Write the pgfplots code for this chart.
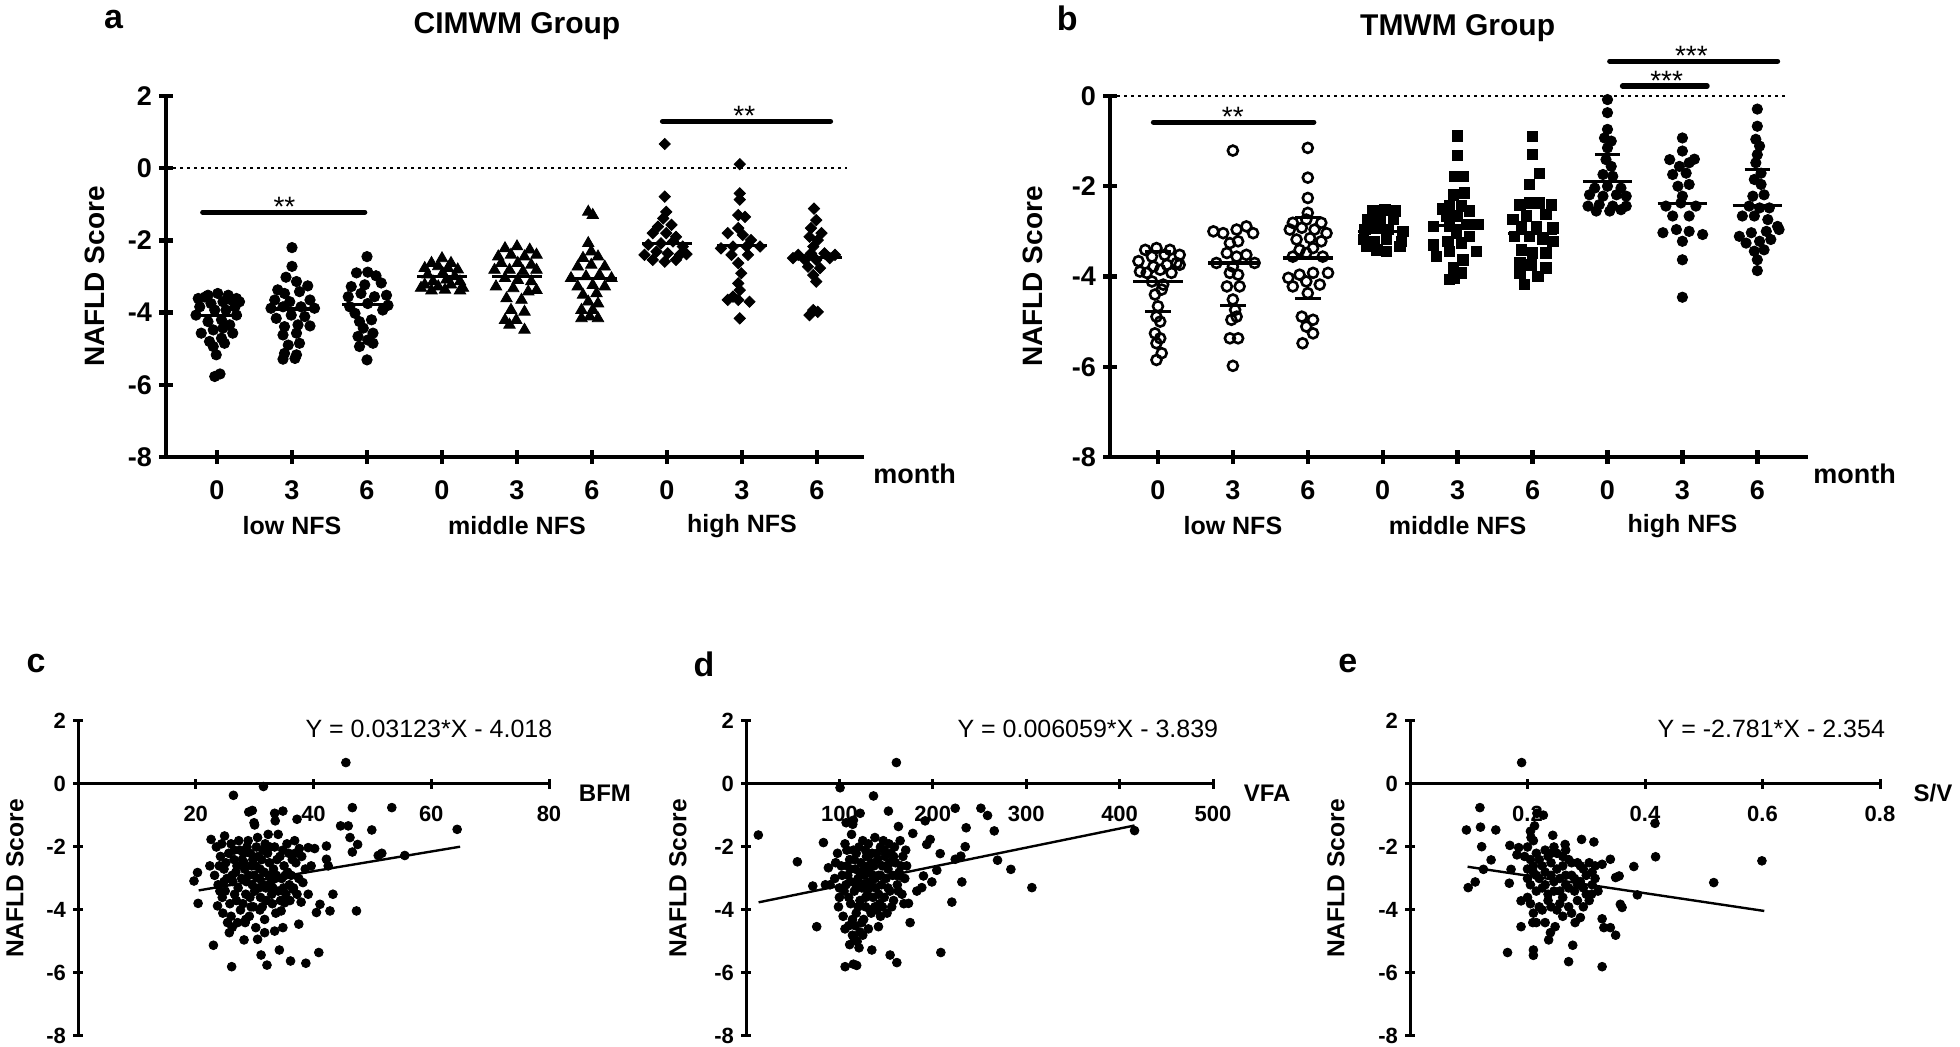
\documentclass[border=0pt]{standalone}
\usepackage{fontspec}
\setmainfont{Liberation Sans}
\setsansfont{Liberation Sans}
\usepackage{pgfplots}
\pgfplotsset{compat=1.18}
\newcommand\fs[1]{\fontsize{#1}{#1}\selectfont}
\pgfplotsset{
  base/.style={scale only axis, clip=false, /pgf/number format/assume math mode=true,
    tick align=outside, every axis plot/.append style={black}},
  top/.style={base, width=348.75pt, height=180.5pt,
    axis x line=bottom, axis y line=left,
    axis line style={line width=2.2pt,-}, tick style={line width=2.2pt, black},
    major tick length=7pt,
    xtick={1,...,9}, xticklabels={0,3,6,0,3,6,0,3,6},
    tick label style={font=\bfseries\fs{13.5}},
    xticklabel style={yshift=-5pt}},
  bot/.style={base, height=157.5pt, ymin=-8, ymax=2,
    axis x line=middle, axis y line=left,
    axis line style={line width=1.5pt,-}, tick style={line width=1.5pt, black},
    major tick length=5pt, hide obscured y ticks=false, hide obscured x ticks=false,
    ytick={-8,-6,-4,-2,0,2}, yticklabels={-8,-6,-4,-2,0,2},
    tick label style={font=\bfseries\fs{11}},
    xticklabel style={yshift=-5pt}},
  dots/.style={only marks, mark=*, mark size=2.2pt},
  mean/.style={line width=1.6pt},
  sig/.style={line width=2.6pt, line cap=round},
  zero/.style={line width=1.3pt, dash pattern=on 1.3pt off 2.2pt},
}
\begin{document}
\begin{tikzpicture}
\useasboundingbox (0,0) rectangle (980pt,523.5pt);
% ---------------- panel a ----------------
\begin{axis}[top, at={(83pt,295pt)}, anchor=south west, xmin=0.32, xmax=9.62, ymin=-8, ymax=2,
  ytick={-8,-6,-4,-2,0,2}, yticklabels={-8,-6,-4,-2,0,2}]
\addplot[zero] coordinates {(0.32,0)(9.4,0)};
\addplot[only marks, mark=*, mark size=2.6pt] coordinates {
(0.75,-3.61)(0.88,-3.52)(1.01,-3.47)(1.15,-3.52)(1.26,-3.61)(0.77,-3.84)(0.92,-3.75)(1.08,-3.70)(1.24,-3.84)(1.30,-3.70)
(0.72,-4.07)(0.97,-3.93)(1.12,-3.93)(1.26,-4.07)(0.88,-4.25)(1.06,-4.20)(1.17,-4.34)(0.79,-4.57)(0.95,-4.48)(1.08,-4.43)
(1.21,-4.57)(0.90,-4.80)(1.06,-4.71)(0.95,-4.94)(1.10,-4.85)(0.99,-5.17)(0.97,-5.77)(1.04,-5.70)(0.84,-3.57)(1.19,-3.65)};
\addplot[only marks, mark=*, mark size=2.6pt] coordinates {
(2.00,-2.20)(2.00,-2.72)(1.92,-3.02)(2.06,-3.14)(1.81,-3.37)(2.21,-3.26)(1.90,-3.47)(2.10,-3.42)(1.77,-3.65)(2.24,-3.65)
(1.97,-3.70)(1.72,-3.88)(1.88,-3.84)(2.12,-3.84)(2.30,-3.88)(1.79,-4.16)(1.99,-4.07)(2.17,-4.11)(1.90,-4.39)(2.08,-4.34)
(2.24,-4.37)(1.88,-4.62)(2.06,-4.57)(1.95,-4.90)(2.10,-4.85)(1.90,-5.13)(2.06,-5.17)(1.88,-5.29)(2.04,-5.27)};
\addplot[only marks, mark=*, mark size=2.6pt] coordinates {
(3.00,-2.45)(2.86,-2.90)(3.01,-2.88)(3.12,-2.98)(3.19,-3.18)(2.79,-3.28)(2.97,-3.23)(2.75,-3.56)(2.92,-3.47)(3.26,-3.52)
(3.10,-3.56)(2.77,-3.84)(3.01,-3.75)(3.21,-3.93)(3.28,-3.80)(2.84,-4.02)(2.90,-4.25)(3.06,-4.20)(2.95,-4.43)(3.08,-4.57)
(2.88,-4.66)(3.01,-4.76)(2.90,-4.94)(3.08,-4.85)(3.00,-5.31)};
\addplot[only marks, mark=triangle*, mark size=3.3pt] coordinates {
(4.00,-2.50)(3.86,-2.63)(4.12,-2.63)(3.77,-2.77)(3.95,-2.72)(4.08,-2.77)(4.21,-2.81)(3.81,-2.95)(4.01,-2.91)(4.17,-3.00)
(3.88,-3.14)(4.06,-3.09)(4.24,-3.14)(3.77,-3.23)(3.95,-3.28)(4.12,-3.23)(3.86,-3.39)(4.04,-3.37)(4.24,-3.39)(3.72,-3.32)(4.28,-3.32)};
\addplot[only marks, mark=triangle*, mark size=3.3pt] coordinates {
(5.00,-2.17)(4.84,-2.22)(5.17,-2.26)(4.75,-2.45)(4.92,-2.40)(5.10,-2.45)(5.26,-2.40)(4.79,-2.63)(5.01,-2.63)(5.19,-2.68)
(4.70,-2.82)(4.90,-2.82)(5.08,-2.86)(5.26,-2.82)(4.84,-3.05)(5.01,-3.10)(5.19,-3.14)(4.72,-3.28)(4.95,-3.33)(5.15,-3.42)
(5.26,-3.38)(4.86,-3.61)(5.06,-3.65)(4.92,-3.93)(5.10,-3.98)(4.84,-4.21)(4.99,-4.21)(4.90,-4.34)(5.10,-4.48)};
\addplot[only marks, mark=triangle*, mark size=3.3pt] coordinates {
(5.95,-1.21)(6.01,-1.30)(5.95,-2.08)(5.99,-2.31)(5.88,-2.49)(6.08,-2.45)(5.81,-2.73)(5.99,-2.68)(6.17,-2.73)(5.72,-3.05)
(5.92,-3.00)(6.10,-2.96)(6.26,-3.05)(5.81,-3.28)(6.01,-3.24)(6.17,-3.28)(5.88,-3.51)(6.06,-3.47)(5.95,-3.70)(6.08,-3.75)
(5.86,-3.93)(6.01,-3.93)(5.86,-4.16)(6.08,-4.16)(5.97,-4.11)};
\addplot[only marks, mark=square*, mark size=2pt, mark options={rotate=45}] coordinates {
(6.97,0.67)(6.97,-0.79)(6.99,-1.21)(6.95,-1.39)(6.88,-1.62)(7.06,-1.57)(6.81,-1.80)(6.99,-1.80)(7.12,-1.90)(6.75,-2.12)
(6.92,-2.08)(7.08,-2.03)(7.21,-2.17)(6.70,-2.40)(6.86,-2.31)(7.01,-2.36)(7.17,-2.40)(7.26,-2.38)(6.81,-2.54)(6.97,-2.59)(7.12,-2.54)};
\addplot[only marks, mark=square*, mark size=2pt, mark options={rotate=45}] coordinates {
(7.97,0.11)(7.97,-0.70)(7.97,-0.87)(7.95,-1.30)(8.04,-1.35)(7.95,-1.66)(7.81,-1.80)(8.01,-1.85)(8.12,-1.99)(7.72,-2.22)
(7.88,-2.17)(8.06,-2.17)(8.24,-2.17)(7.86,-2.40)(8.08,-2.40)(7.95,-2.63)(7.99,-2.91)(7.95,-3.19)(7.97,-3.38)(7.81,-3.65)
(7.95,-3.65)(8.10,-3.70)(7.88,-3.56)(7.97,-4.16)};
\addplot[only marks, mark=square*, mark size=2pt, mark options={rotate=45}] coordinates {
(8.96,-1.12)(8.99,-1.44)(8.92,-1.66)(9.06,-1.80)(8.90,-1.90)(9.01,-1.99)(8.95,-2.17)(8.75,-2.40)(8.92,-2.36)(9.10,-2.36)
(9.24,-2.40)(8.68,-2.49)(8.84,-2.54)(8.99,-2.54)(9.17,-2.49)(8.88,-2.73)(9.04,-2.77)(8.95,-2.96)(8.99,-3.14)(8.95,-3.93)
(9.01,-3.98)(8.90,-4.07)};
\addplot[mean] coordinates {(0.67,-4.07)(1.33,-4.07)};
\addplot[mean] coordinates {(1.67,-3.90)(2.33,-3.90)};
\addplot[mean] coordinates {(2.67,-3.77)(3.33,-3.77)};
\addplot[mean] coordinates {(3.67,-3.00)(4.33,-3.00)};
\addplot[mean] coordinates {(4.67,-3.00)(5.33,-3.00)};
\addplot[mean] coordinates {(5.67,-3.05)(6.33,-3.05)};
\addplot[mean] coordinates {(6.67,-2.08)(7.33,-2.08)};
\addplot[mean] coordinates {(7.67,-2.15)(8.33,-2.15)};
\addplot[mean] coordinates {(8.67,-2.48)(9.33,-2.48)};
\addplot[sig] coordinates {(0.81,-1.22)(2.97,-1.22)};
\addplot[sig] coordinates {(6.94,1.30)(9.18,1.30)};
\node[font=\fs{14}, anchor=base, yshift=-2pt] at (axis cs:1.9,-1.22) {**};
\node[font=\fs{14}, anchor=base, yshift=-2pt] at (axis cs:8.03,1.30) {**};
\node[font=\bfseries\fs{15}] at (axis cs:5.0,3.94) {CIMWM Group};
\node[font=\bfseries\fs{17}] at (axis cs:-0.38,4.13) {a};
\node[rotate=90, font=\bfseries\fs{14}] at (axis cs:-0.63,-3) {NAFLD Score};
\node[font=\bfseries\fs{13.5}, yshift=-8.5pt] at (axis cs:10.3,-8) {month};
\node[font=\bfseries\fs{12.5}, yshift=-34.5pt] at (axis cs:2,-8) {low NFS};
\node[font=\bfseries\fs{12.5}, yshift=-34.5pt] at (axis cs:5,-8) {middle NFS};
\node[font=\bfseries\fs{12.5}, yshift=-34.5pt] at (axis cs:8,-8) {high NFS};
\end{axis}
% ---------------- panel b ----------------
\begin{axis}[top, at={(555pt,295pt)}, anchor=south west, xmin=0.36, xmax=9.67, ymin=-8, ymax=0,
  ytick={-8,-6,-4,-2,0}, yticklabels={-8,-6,-4,-2,0}]
\addplot[zero] coordinates {(0.36,0)(9.4,0)};
\addplot[only marks, mark=o, mark size=2.5pt, mark options={line width=1.3pt}] coordinates {
(0.83,-3.41)(0.98,-3.37)(1.16,-3.41)(1.29,-3.52)(0.74,-3.66)(0.92,-3.56)(1.09,-3.52)(1.25,-3.70)(0.76,-3.89)(0.94,-3.78)
(1.12,-3.74)(1.29,-3.74)(0.85,-3.92)(1.03,-3.85)(1.18,-3.92)(0.92,-4.11)(1.07,-4.18)(0.96,-4.40)(1.05,-4.29)(1.00,-4.66)
(0.98,-4.89)(1.03,-5.00)(0.96,-5.26)(1.03,-5.37)(0.98,-5.48)(1.05,-5.70)(0.98,-5.85)};
\addplot[only marks, mark=o, mark size=2.5pt, mark options={line width=1.3pt}] coordinates {
(2.00,-1.21)(1.74,-3.00)(1.87,-3.04)(2.05,-2.96)(2.18,-2.89)(2.27,-3.04)(1.96,-3.26)(2.07,-3.22)(1.78,-3.70)(1.92,-3.48)
(2.05,-3.56)(2.18,-3.52)(2.29,-3.70)(2.00,-3.78)(1.96,-3.92)(2.07,-3.96)(1.92,-4.22)(2.09,-4.22)(2.00,-4.51)(2.03,-4.74)
(1.98,-4.96)(2.05,-4.89)(1.96,-5.37)(2.07,-5.37)(2.00,-5.98)};
\addplot[only marks, mark=o, mark size=2.5pt, mark options={line width=1.3pt}] coordinates {
(3.00,-1.15)(3.00,-1.81)(3.00,-2.26)(3.00,-2.59)(2.80,-2.81)(2.98,-2.74)(3.18,-2.81)(2.76,-2.96)(2.92,-2.92)(3.09,-2.96)
(3.25,-3.04)(2.85,-3.18)(3.03,-3.15)(3.18,-3.22)(2.89,-3.41)(3.07,-3.37)(2.80,-3.56)(2.98,-3.48)(3.20,-3.56)(2.74,-4.03)
(2.89,-3.96)(3.07,-3.92)(3.27,-3.92)(2.80,-4.22)(2.98,-4.11)(3.16,-4.18)(3.00,-4.37)(2.92,-4.89)(3.07,-4.96)(2.98,-5.11)
(3.07,-5.26)(2.93,-5.48)};
\addplot[only marks, mark=square*, mark size=2.6pt] coordinates {
(3.87,-2.55)(4.03,-2.52)(4.16,-2.55)(3.80,-2.74)(3.96,-2.70)(4.14,-2.74)(3.76,-2.96)(3.92,-2.92)(4.07,-2.96)(4.27,-3.00)
(3.74,-3.18)(3.89,-3.22)(4.05,-3.18)(4.25,-3.22)(3.78,-3.33)(3.92,-3.41)(4.05,-3.44)(4.23,-3.33)};
\addplot[only marks, mark=square*, mark size=2.6pt] coordinates {
(5.00,-0.88)(5.00,-1.32)(4.96,-1.78)(5.07,-1.78)(4.94,-2.19)(5.09,-2.15)(4.89,-2.44)(5.05,-2.44)(5.16,-2.55)(4.85,-2.66)
(5.00,-2.66)(5.27,-2.85)(4.89,-2.89)(5.12,-2.85)(4.98,-3.03)(5.16,-3.11)(4.87,-3.22)(5.05,-3.26)(5.25,-3.44)(4.89,-3.44)
(5.07,-3.63)(4.94,-3.81)(5.05,-3.92)(4.96,-4.03)(4.68,-2.89)(4.68,-3.30)(4.72,-3.55)(4.80,-2.50)(4.89,-4.07)};
\addplot[only marks, mark=square*, mark size=2.6pt] coordinates {
(6.00,-0.89)(6.00,-1.30)(6.09,-1.71)(5.96,-1.96)(5.83,-2.41)(5.96,-2.37)(6.09,-2.37)(6.25,-2.41)(5.74,-2.74)(5.92,-2.66)
(6.18,-2.63)(5.85,-2.89)(6.05,-2.89)(6.27,-2.92)(5.76,-3.11)(5.96,-3.11)(6.14,-3.18)(6.27,-3.22)(5.85,-3.41)(6.00,-3.48)
(6.18,-3.48)(5.83,-3.70)(5.98,-3.74)(6.18,-3.81)(5.83,-3.92)(6.07,-4.00)(5.89,-4.18)};
\addplot[only marks, mark=*, mark size=2.6pt] coordinates {
(7.00,-0.08)(7.00,-0.37)(7.00,-0.74)(6.96,-0.93)(7.05,-1.00)(7.00,-1.15)(6.98,-1.41)(7.05,-1.56)(6.94,-1.74)(7.07,-1.78)
(6.83,-2.04)(7.00,-2.00)(7.18,-2.04)(6.76,-2.19)(6.94,-2.22)(7.12,-2.19)(7.25,-2.22)(6.74,-2.44)(6.89,-2.41)(7.07,-2.44)
(7.25,-2.44)(6.85,-2.55)(7.03,-2.55)(7.18,-2.52)};
\addplot[only marks, mark=*, mark size=2.6pt] coordinates {
(8.00,-0.93)(8.00,-1.22)(7.83,-1.41)(8.16,-1.40)(7.96,-1.56)(8.09,-1.48)(7.87,-1.74)(8.05,-1.71)(7.94,-2.00)(8.09,-1.96)
(8.00,-2.22)(7.78,-2.44)(7.98,-2.37)(8.18,-2.44)(7.87,-2.66)(8.09,-2.66)(7.74,-3.03)(7.92,-2.96)(8.09,-3.00)(8.27,-3.07)
(8.00,-3.22)(8.00,-3.63)(8.00,-4.46)};
\addplot[only marks, mark=*, mark size=2.6pt] coordinates {
(9.00,-0.29)(9.00,-0.67)(8.98,-0.96)(9.03,-1.11)(9.00,-1.30)(8.98,-1.48)(9.05,-1.71)(8.96,-1.85)(9.05,-1.96)(8.94,-2.22)
(9.09,-2.19)(8.89,-2.44)(9.03,-2.48)(9.16,-2.48)(8.80,-2.66)(8.96,-2.66)(9.14,-2.74)(9.27,-2.89)(8.76,-3.11)(8.92,-3.03)
(9.12,-3.00)(9.29,-2.96)(8.85,-3.26)(9.03,-3.22)(9.18,-3.18)(8.96,-3.44)(9.09,-3.41)(9.00,-3.63)(9.00,-3.87)};
\addplot[mean] coordinates {(0.67,-4.11)(1.33,-4.11)};
\addplot[mean] coordinates {(0.83,-4.77)(1.17,-4.77)};
\addplot[mean] coordinates {(0.83,-3.45)(1.17,-3.45)};
\addplot[mean] coordinates {(1.67,-3.70)(2.33,-3.70)};
\addplot[mean] coordinates {(1.83,-4.65)(2.17,-4.65)};
\addplot[mean] coordinates {(2.67,-3.59)(3.33,-3.59)};
\addplot[mean] coordinates {(2.83,-4.49)(3.17,-4.49)};
\addplot[mean] coordinates {(2.83,-2.69)(3.17,-2.69)};
\addplot[mean] coordinates {(3.67,-3.00)(4.33,-3.00)};
\addplot[mean] coordinates {(4.67,-2.87)(5.33,-2.87)};
\addplot[mean] coordinates {(5.67,-3.05)(6.33,-3.05)};
\addplot[mean] coordinates {(6.67,-1.89)(7.33,-1.89)};
\addplot[mean] coordinates {(6.83,-1.30)(7.17,-1.30)};
\addplot[mean] coordinates {(7.67,-2.39)(8.33,-2.39)};
\addplot[mean] coordinates {(8.67,-2.43)(9.33,-2.43)};
\addplot[mean] coordinates {(8.83,-1.63)(9.17,-1.63)};
\addplot[sig] coordinates {(0.94,-0.58)(3.08,-0.58)};
\addplot[sig] coordinates {(7.03,0.77)(9.27,0.77)};
\addplot[sig] coordinates {(7.20,0.22)(8.33,0.22)};
\node[font=\fs{14}, anchor=base, yshift=-2pt] at (axis cs:2.0,-0.58) {**};
\node[font=\fs{14}, anchor=base, yshift=-2pt] at (axis cs:8.12,0.77) {***};
\node[font=\fs{14}, anchor=base, yshift=-2pt] at (axis cs:7.79,0.22) {***};
\node[font=\bfseries\fs{15}] at (axis cs:5.0,1.50) {TMWM Group};
\node[font=\bfseries\fs{17}] at (axis cs:-0.21,1.72) {b};
\node[rotate=90, font=\bfseries\fs{14}] at (axis cs:-0.67,-4) {NAFLD Score};
\node[font=\bfseries\fs{13.5}, yshift=-8.5pt] at (axis cs:10.3,-8) {month};
\node[font=\bfseries\fs{12.5}, yshift=-34.5pt] at (axis cs:2,-8) {low NFS};
\node[font=\bfseries\fs{12.5}, yshift=-34.5pt] at (axis cs:5,-8) {middle NFS};
\node[font=\bfseries\fs{12.5}, yshift=-34.5pt] at (axis cs:8,-8) {high NFS};
\end{axis}
% ---------------- panel c ----------------
\begin{axis}[bot, at={(39pt,5.5pt)}, anchor=south west, width=235.5pt, xmin=0, xmax=80,
  xtick={20,40,60,80}]
\addplot[dots] coordinates {
(31.5,-0.08)(26.4,-0.36)(29.0,-0.89)(29.6,-0.84)(29.9,-1.23)(33.4,-0.93)(34.8,-0.86)(33.5,-1.17)(37.2,-1.12)(46.6,-0.75)
(53.3,-0.75)(44.6,-1.33)(45.9,-1.33)(46.2,-1.70)(47.5,-1.92)(46.6,-2.16)(49.9,-1.46)(64.4,-1.44)(51.0,-2.27)(51.6,-2.20)
(55.5,-2.27)(42.2,-1.97)(37.6,-2.05)(39.1,-2.02)(40.2,-2.05)(42.2,-2.39)(42.5,-2.60)(43.3,-3.50)(42.8,-4.03)(40.5,-4.08)
(41.1,-3.82)(47.3,-4.03)(37.9,-3.75)(37.5,-4.45)(23.0,-5.12)(26.1,-5.80)(28.2,-4.95)(31.1,-5.43)(32.1,-5.75)(34.2,-5.27)
(36.1,-5.62)(38.7,-5.69)(40.9,-5.35)(20.3,-2.81)(19.7,-3.08)(20.4,-3.79)(22.4,-2.60)(22.6,-1.76)(24.9,-1.65)(23.7,-3.87)
(25.4,-4.40)(25.7,-4.72)(26.2,-4.55)(28.5,-4.30)(30.2,-4.56)(30.5,-4.93)(31.7,-4.72)(33.4,-4.67)(34.8,-4.56)(35.1,-3.77)
(34.5,-4.03)(38.2,-3.13)(39.1,-3.50)(39.6,-2.60)(36.5,-3.34)(45.5,0.68)
(23.5,-2.0)(24.2,-2.3)(24.8,-2.7)(25.3,-3.0)(25.0,-3.4)(24.5,-3.6)(23.8,-3.2)(26.0,-1.9)(26.5,-2.4)(26.8,-2.8)
(27.2,-3.3)(26.9,-3.7)(27.5,-2.1)(27.8,-3.0)(28.2,-2.5)(28.5,-3.5)(28.9,-1.8)(29.3,-2.2)(29.0,-2.9)(29.6,-3.2)
(29.8,-3.9)(30.2,-2.6)(30.5,-1.7)(30.8,-3.0)(31.0,-3.6)(31.4,-2.1)(31.6,-2.8)(31.9,-3.3)(32.3,-1.6)(32.5,-2.5)
(32.8,-3.1)(33.0,-3.8)(33.4,-2.0)(33.7,-2.9)(34.0,-3.4)(34.3,-2.3)(34.6,-3.0)(35.0,-2.6)(35.3,-3.5)(35.8,-2.2)
(36.2,-2.9)(36.6,-3.3)(37.0,-2.5)(27.0,-2.6)(28.0,-3.8)(30.0,-3.4)(31.2,-2.4)(32.0,-3.7)(33.2,-2.7)(25.8,-3.8)
(29.5,-2.6)(30.6,-2.3)(26.3,-3.1)(32.6,-2.0)(34.8,-2.1)(36.0,-3.7)(24.0,-2.6)(28.7,-2.0)(31.8,-1.9)(35.5,-1.9)
(37.5,-3.0)(38.0,-2.3)(36.8,-1.8)(29.2,-3.6)(27.6,-4.0)(30.9,-4.0)(33.6,-4.1)(26.0,-4.2)(28.4,-4.4)(24.6,-4.1)
(34.0,-1.6)(30.0,-1.3)
(23.2,-2.9)(24.4,-1.9)(25.6,-2.2)(26.2,-2.9)(27.3,-1.8)(27.9,-2.4)(28.6,-3.1)(29.4,-3.9)(30.3,-2.0)(30.9,-2.7)
(31.5,-3.2)(32.2,-2.2)(32.9,-3.5)(33.8,-2.4)(34.4,-3.7)(35.2,-2.9)(35.9,-3.2)(36.4,-2.4)(37.2,-3.5)(24.8,-3.1)
(26.6,-3.5)(28.3,-2.7)(29.9,-2.9)(31.3,-3.9)(33.1,-3.3)(34.9,-3.3)(27.1,-4.4)(29.1,-4.2)(31.7,-4.3)(25.1,-2.5)
(36.9,-2.2)(38.6,-2.7)(30.7,-3.3)(28.1,-2.2)(32.4,-2.9)(26.5,-2.1)(24.1,-3.4)(35.6,-2.8)(33.5,-3.0)(29.7,-2.4)};
\addplot[line width=1.2pt] coordinates {(20.5,-3.378)(64.9,-1.991)};
\node[font=\fs{12.5}] at (axis cs:59.6,1.75) {Y = 0.03123*X - 4.018};
\node[font=\bfseries\fs{12}] at (axis cs:89.5,-0.29) {BFM};
\node[font=\bfseries\fs{17}] at (axis cs:-7.1,3.81) {c};
\node[rotate=90, font=\bfseries\fs{12.3}] at (axis cs:-10.7,-3) {NAFLD Score};
\end{axis}
% ---------------- panel d ----------------
\begin{axis}[bot, at={(373pt,5.5pt)}, anchor=south west, width=233.5pt, xmin=0, xmax=500,
  xtick={100,200,300,400,500}]
\addplot[dots] coordinates {
(100.7,-0.12)(136.5,-0.38)(13.2,-1.62)(152.5,-0.86)(122.2,-0.93)(115,-1.15)(107.2,-1.23)(114.3,-1.28)(163.2,-1.35)(178.6,-1.57)
(191.8,-1.17)(197.2,-1.76)(193.5,-1.92)(224,-0.77)(251.5,-0.77)(258.6,-1.0)(235.7,-1.39)(265.8,-1.49)(234.7,-1.99)(230,-2.29)
(207.9,-2.21)(224,-2.39)(269.3,-2.42)(283.6,-2.71)(306.1,-3.29)(204.3,-2.74)(231.1,-3.11)(220.4,-3.75)(208.6,-5.35)(82.9,-1.86)
(55.0,-2.47)(88.2,-2.66)(71.5,-3.24)(75.7,-4.53)(134.7,-5.27)(154.3,-5.43)(161.5,-5.67)(106.1,-5.80)(115,-5.72)(118.5,-5.76)
(141.8,-4.53)(175.7,-4.40)(174,-3.79)(188.2,-3.29)(199,-3.11)(190,-2.92)(182.9,-3.40)(165,-2.92)(161,0.68)(416,-1.48)
(95,-3.0)(98,-2.2)(100,-3.6)(102,-2.6)(104,-4.2)(106,-1.9)(107,-3.2)(109,-2.9)(110,-4.5)(111,-2.4)
(112,-3.8)(113,-1.6)(114,-4.8)(115,-2.1)(116,-3.4)(117,-2.7)(118,-4.1)(119,-5.0)(120,-3.0)(121,-2.0)
(122,-3.7)(123,-2.5)(124,-4.4)(125,-1.8)(126,-3.2)(127,-2.9)(128,-3.9)(129,-2.3)(130,-3.5)(131,-1.9)
(132,-2.7)(133,-4.0)(134,-3.1)(135,-2.2)(136,-3.6)(137,-2.6)(138,-1.7)(139,-3.3)(140,-4.0)(141,-2.4)
(142,-2.9)(143,-3.8)(144,-2.0)(145,-3.2)(146,-2.6)(147,-1.8)(148,-3.6)(149,-2.3)(150,-3.0)(151,-4.1)
(152,-2.7)(153,-1.9)(154,-3.4)(155,-2.2)(157,-2.9)(158,-3.7)(159,-2.0)(160,-2.5)(162,-3.2)(164,-2.8)
(165,-1.8)(167,-3.5)(168,-2.3)(170,-3.0)(172,-2.6)(108,-2.1)(118,-2.2)(128,-2.1)(138,-3.0)(112,-3.1)
(122,-4.7)(106,-4.6)(116,-4.9)(126,-4.3)(134,-4.1)(144,-4.2)(100,-3.3)(90,-3.2)(85,-3.2)
(96,-2.5)(99,-3.9)(103,-2.9)(105,-3.4)(108,-2.6)(110,-3.6)(112,-2.7)(114,-4.3)(116,-2.4)(118,-3.2)
(120,-3.9)(122,-2.8)(124,-3.3)(126,-2.6)(128,-3.6)(130,-2.8)(132,-3.3)(134,-2.5)(136,-2.9)(138,-3.9)
(140,-2.2)(142,-3.5)(144,-2.9)(146,-3.9)(148,-2.1)(150,-2.6)(152,-3.3)(154,-2.5)(156,-3.9)(158,-2.3)
(161,-2.9)(163,-3.4)(166,-2.6)(169,-3.8)(171,-2.1)(111,-5.1)(117,-4.5)(121,-5.2)(125,-4.8)(131,-4.6)};
\addplot[line width=1.2pt] coordinates {(13.5,-3.757)(416,-1.318)};
\node[font=\fs{12.5}] at (axis cs:366,1.75) {Y = 0.006059*X - 3.839};
\node[font=\bfseries\fs{12}] at (axis cs:558,-0.29) {VFA};
\node[font=\bfseries\fs{17}] at (axis cs:-45,3.81) {d};
\node[rotate=90, font=\bfseries\fs{12.3}] at (axis cs:-73,-3) {NAFLD Score};
\end{axis}
% ---------------- panel e ----------------
\begin{axis}[bot, at={(705pt,5.5pt)}, anchor=south west, width=235pt, xmin=0, xmax=0.8,
  xtick={0.2,0.4,0.6,0.8}, xticklabels={0.2,0.4,0.6,0.8}]
\addplot[dots] coordinates {
(0.119,-0.75)(0.096,-1.46)(0.120,-1.37)(0.146,-1.46)(0.122,-1.99)(0.138,-2.41)(0.125,-2.71)(0.111,-3.11)(0.099,-3.29)(0.169,-3.15)
(0.172,-2.71)(0.170,-1.95)(0.185,-2.02)(0.182,-2.25)(0.189,-3.71)(0.189,-4.53)(0.209,-4.40)(0.166,-5.35)(0.210,-5.27)(0.210,-5.44)
(0.270,-5.64)(0.327,-5.80)(0.277,-5.12)(0.236,-4.95)(0.239,-4.72)(0.247,-4.53)(0.281,-4.40)(0.290,-4.24)(0.327,-4.28)(0.330,-4.56)
(0.341,-4.56)(0.350,-4.80)(0.358,-3.82)(0.361,-3.92)(0.387,-3.52)(0.381,-2.62)(0.341,-2.39)(0.327,-2.55)(0.350,-2.97)(0.356,-2.92)
(0.418,-2.31)(0.417,-1.25)(0.517,-3.13)(0.599,-2.44)(0.313,-1.84)(0.292,-1.76)(0.264,-1.92)(0.243,-1.63)(0.216,-0.93)(0.227,-0.99)
(0.212,-1.33)(0.206,-1.70)(0.309,-3.50)(0.19,0.68)
(0.20,-2.0)(0.205,-2.4)(0.21,-2.8)(0.205,-3.2)(0.20,-3.6)(0.21,-1.8)(0.215,-2.2)(0.22,-3.0)(0.215,-3.4)(0.22,-3.9)
(0.225,-2.6)(0.23,-2.1)(0.23,-3.2)(0.235,-3.7)(0.24,-2.5)(0.24,-2.9)(0.245,-3.4)(0.25,-2.2)(0.25,-4.0)(0.255,-3.0)
(0.26,-2.6)(0.26,-3.6)(0.265,-3.2)(0.27,-2.4)(0.27,-3.9)(0.275,-2.9)(0.28,-3.4)(0.285,-2.5)(0.285,-3.7)(0.29,-3.1)
(0.295,-2.7)(0.30,-3.5)(0.305,-2.5)(0.31,-3.2)(0.315,-2.6)(0.32,-3.4)(0.245,-2.0)(0.255,-3.8)(0.275,-4.1)(0.225,-4.0)
(0.21,-4.1)(0.265,-2.1)(0.295,-3.9)(0.235,-2.3)(0.2,-2.7)
(0.195,-2.3)(0.2,-3.0)(0.205,-3.8)(0.21,-2.6)(0.215,-2.9)(0.22,-2.4)(0.225,-3.3)(0.23,-2.8)(0.235,-3.5)(0.24,-2.2)
(0.245,-3.1)(0.25,-2.7)(0.255,-3.4)(0.26,-2.3)(0.265,-2.9)(0.27,-3.3)(0.275,-2.5)(0.28,-3.0)(0.285,-3.2)(0.29,-2.6)
(0.295,-3.3)(0.30,-2.9)(0.305,-3.7)(0.31,-2.8)(0.315,-3.0)(0.205,-1.5)(0.215,-4.4)(0.23,-4.4)(0.26,-4.2)(0.24,-3.9)};
\addplot[line width=1.2pt] coordinates {(0.098,-2.627)(0.603,-4.031)};
\node[font=\fs{12.5}] at (axis cs:0.615,1.75) {Y = -2.781*X - 2.354};
\node[font=\bfseries\fs{12}, anchor=east] at (axis cs:0.935,-0.29) {S/V};
\node[font=\bfseries\fs{17}] at (axis cs:-0.106,3.81) {e};
\node[rotate=90, font=\bfseries\fs{12.3}] at (axis cs:-0.126,-3) {NAFLD Score};
\end{axis}
\end{tikzpicture}
\end{document}
